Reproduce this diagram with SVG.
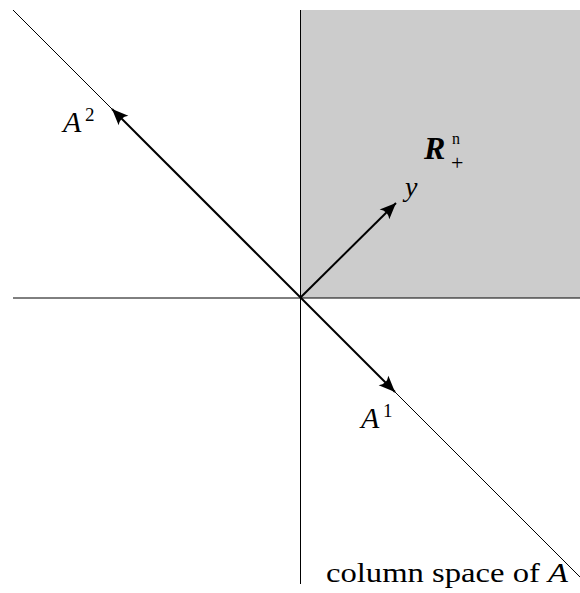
<svg xmlns="http://www.w3.org/2000/svg" width="580" height="593" viewBox="0 0 580 593">
<style>
.ax{stroke:#000;stroke-width:1;fill:none}
.vec{stroke:#000;stroke-width:2;fill:none;marker-end:url(#ah)}
.t{font-family:"Liberation Serif","DejaVu Serif",serif;fill:#000}
.it{font-style:italic}
</style>
<defs>
<marker id="ah" markerUnits="userSpaceOnUse" markerWidth="20" markerHeight="20" viewBox="-14 -7 16 14" refX="0" refY="0" orient="auto">
<path d="M0,0 L-13,-5.5 Q-9,0 -13,5.5 Z" fill="#000"/>
</marker>
</defs>
<rect x="300.5" y="10" width="279.5" height="288" fill="#cccccc"/>
<g id="connectors">
<line class="ax" x1="300.5" y1="10" x2="300.5" y2="584"/>
<line class="ax" x1="13" y1="298" x2="580" y2="298"/>
<line class="ax" x1="13" y1="10" x2="580" y2="577"/>
<line class="vec" x1="300.5" y1="297.5" x2="112" y2="109"/>
<line class="vec" x1="300.5" y1="297.5" x2="395" y2="392"/>
<line class="vec" x1="300.5" y1="297.5" x2="396" y2="203"/>
</g>
<g id="A2"><text class="t it" x="63" y="132" font-size="30">A</text><text class="t" x="85" y="121" font-size="19">2</text></g>
<g id="A1"><text class="t it" x="361" y="428" font-size="30">A</text><text class="t" x="383" y="417" font-size="19">1</text></g>
<g id="y"><text class="t it" x="405" y="196" font-size="28">y</text></g>
<g id="Rn"><text class="t it" x="424" y="159" font-size="32" font-weight="bold">R</text><text class="t" x="452" y="144" font-size="16">n</text><text class="t" x="451" y="170" font-size="22">+</text></g>
<g id="colspace"><text class="t" x="326" y="582" font-size="27" textLength="242" lengthAdjust="spacingAndGlyphs">column space of <tspan class="it">A</tspan></text></g>
</svg>
